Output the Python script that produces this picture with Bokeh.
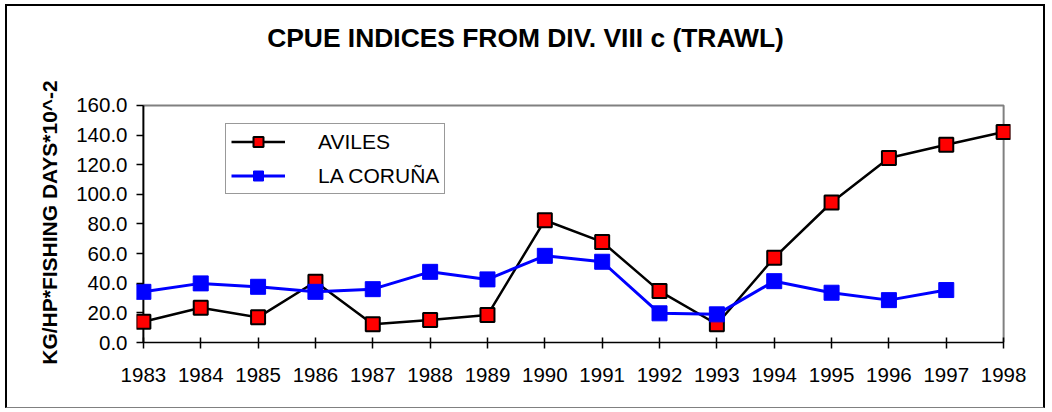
import math
from bokeh.plotting import figure
from bokeh.models import (Range1d, FixedTicker, PrintfTickFormatter, Title,
                          Legend, LegendItem, ColumnDataSource)
from bokeh.embed import file_html
from bokeh.resources import INLINE

# ---- data ----
title_text = "CPUE INDICES FROM DIV. VIII c (TRAWL)"
y_title = "KG/HP*FISHING DAYS*10^-2"
series_names = ["AVILES", "LA CORUÑA"]
years = [1983, 1984, 1985, 1986, 1987, 1988, 1989, 1990,
         1991, 1992, 1993, 1994, 1995, 1996, 1997, 1998]
aviles = [14.0, 23.5, 17.0, 41.0, 12.3, 15.2, 18.5, 82.5,
          67.9, 34.7, 12.3, 57.2, 94.5, 124.5, 133.5, 142.1]
coruna = [34.2, 39.9, 37.6, 34.2, 36.0, 47.7, 42.6, 58.5,
          54.5, 19.7, 19.0, 41.4, 33.6, 28.6, 35.4, float("nan")]
y_ticks = [0, 20, 40, 60, 80, 100, 120, 140, 160]

FONT = "Liberation Sans"

p = figure(width=1040, height=404, output_backend="svg", toolbar_location=None,
           x_range=Range1d(years[0] - 0.12, years[-1] + 0.12),
           y_range=Range1d(0, 162),
           min_border_left=129, min_border_right=37,
           min_border_top=96, min_border_bottom=68)
p.styles = {"border-top": "2px solid black", "border-left": "2px solid black",
            "border-right": "2px solid black", "border-bottom": "1px solid #808080",
            "margin-left": "5px", "margin-top": "4px"}
p.outline_line_color = None
p.grid.visible = False
p.background_fill_color = "white"
p.border_fill_color = "white"

# spacer between title and plot area (title is stacked outermost)
p.add_layout(Title(text=" ", text_font_size="1px", standoff=28), "above")

# title
p.title.text = title_text
p.title.align = "left"
p.title.offset = 130.7
p.title.vertical_align = "top"
p.title.standoff = 33
p.title.text_font = FONT
p.title.text_font_size = "26.4px"
p.title.text_font_style = "bold"
p.title.text_color = "black"

# y axis
ya = p.yaxis[0]
ya.ticker = FixedTicker(ticks=y_ticks)
ya.formatter = PrintfTickFormatter(format="%.1f")
ya.major_tick_in = 7
ya.major_tick_out = 0
ya.minor_tick_line_color = None
ya.axis_line_color = None
ya.major_tick_line_color = "black"
ya.major_tick_line_width = 1.5
ya.major_label_text_font = FONT
ya.major_label_text_font_size = "20.5px"
ya.major_label_text_color = "black"
ya.major_label_standoff = 9
ya.axis_label = y_title
ya.axis_label_text_font = FONT
ya.axis_label_text_font_size = "21px"
ya.axis_label_text_font_style = "bold"
ya.axis_label_text_color = "black"
ya.axis_label_standoff = 12

# x axis
xa = p.xaxis[0]
xa.bounds = (years[0], years[-1])
xa.ticker = FixedTicker(ticks=years)
xa.major_tick_in = 5
xa.major_tick_out = 6
xa.minor_tick_line_color = None
xa.axis_line_width = 1.5
xa.axis_line_color = "black"
xa.major_tick_line_color = "black"
xa.major_tick_line_width = 1.5
xa.major_label_text_font = FONT
xa.major_label_text_font_size = "20.5px"
xa.major_label_text_color = "black"
xa.major_label_standoff = 19

# plot-area frame: gray top/right, black value-axis line at the first year
p.line(x=[years[0], years[-1], years[-1]], y=[y_ticks[-1], y_ticks[-1], y_ticks[0]],
       line_color="#808080", line_width=2)
p.line(x=[years[0], years[0]], y=[y_ticks[0], y_ticks[-1]],
       line_color="black", line_width=2)

src = ColumnDataSource(dict(year=years, aviles=aviles, coruna=coruna))
r1 = p.line("year", "aviles", source=src, line_color="black", line_width=2.5)
s1 = p.scatter("year", "aviles", source=src, marker="square", size=14,
               fill_color="#FF0000", line_color="black", line_width=2)
r2 = p.line("year", "coruna", source=src, line_color="#0000FF", line_width=3)
s2 = p.scatter("year", "coruna", source=src, marker="square", size=15,
               fill_color="#0000FF", line_color="#0000FF", line_width=1)

legend = Legend(items=[LegendItem(label=series_names[0], renderers=[r1, s1]),
                       LegendItem(label=series_names[1], renderers=[r2, s2])],
                location=(89, 148), padding=5, spacing=9, margin=0,
                glyph_width=54, glyph_height=25, label_height=25,
                label_standoff=33,
                label_text_font=FONT, label_text_font_size="21px",
                label_text_color="black", label_text_baseline="middle",
                border_line_color="#333333", border_line_width=1,
                background_fill_color="white", background_fill_alpha=1.0)
p.add_layout(legend)

open("out.html", "w").write(file_html(p, INLINE))
